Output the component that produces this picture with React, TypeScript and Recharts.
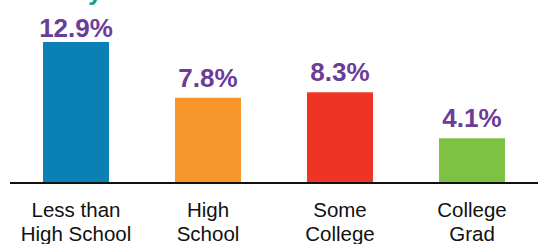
import React from 'react';
import { BarChart, Bar, XAxis, YAxis, Cell, LabelList } from 'recharts';

const categories = ['Less than|High School', 'High|School', 'Some|College', 'College|Grad'];
const rates = [12.9, 7.8, 8.3, 4.1];
const colors = ['#0A80B4', '#F7962B', '#EE3524', '#7DC243'];

const data = categories.map((c, i) => ({ name: c, value: rates[i] }));

const FONT = '"Liberation Sans", Arial, sans-serif';

const Tick = (props: any) => {
  const { x, payload } = props;
  const lines = String(payload.value).split('|');
  return (
    <text x={x} y={217} textAnchor="middle" fontFamily={FONT} fontSize={20.5} fill="#111">
      {lines.map((l, i) => (
        <tspan key={i} x={x} dy={i === 0 ? 0 : 23.5}>{l}</tspan>
      ))}
    </text>
  );
};

const Label = (props: any) => {
  const { x, y, width, value } = props;
  return (
    <text
      x={x + width / 2}
      y={Math.max(y - 11, 36.5)}
      textAnchor="middle"
      fontFamily={FONT}
      fontWeight="bold"
      fontSize={26}
      fill="#6A3D98"
    >
      {value.toFixed(1)}%
    </text>
  );
};

export default function App() {
  return (
    <div style={{ position: 'absolute', left: 0, top: 0, width: 538, height: 244, background: '#fff', overflow: 'hidden' }}>
      <svg width={538} height={10} style={{ position: 'absolute', left: 0, top: 0 }}>
        <text x={88} y={-0.5} fontFamily={FONT} fontWeight="bold" fontSize={26} fill="#16A08C">y</text>
      </svg>
      <BarChart
        width={538}
        height={244}
        data={data}
        margin={{ top: 8, right: 0, left: 10, bottom: 0 }}
        barCategoryGap="25%"
      >
        <YAxis hide domain={[0, 16]} />
        <XAxis
          dataKey="name"
          height={61}
          tickLine={false}
          axisLine={{ stroke: '#111', strokeWidth: 2 }}
          tick={<Tick />}
          interval={0}
        />
        <Bar dataKey="value" isAnimationActive={false}>
          {data.map((d, i) => (
            <Cell key={i} fill={colors[i]} />
          ))}
          <LabelList dataKey="value" content={<Label />} />
        </Bar>
      </BarChart>
    </div>
  );
}
